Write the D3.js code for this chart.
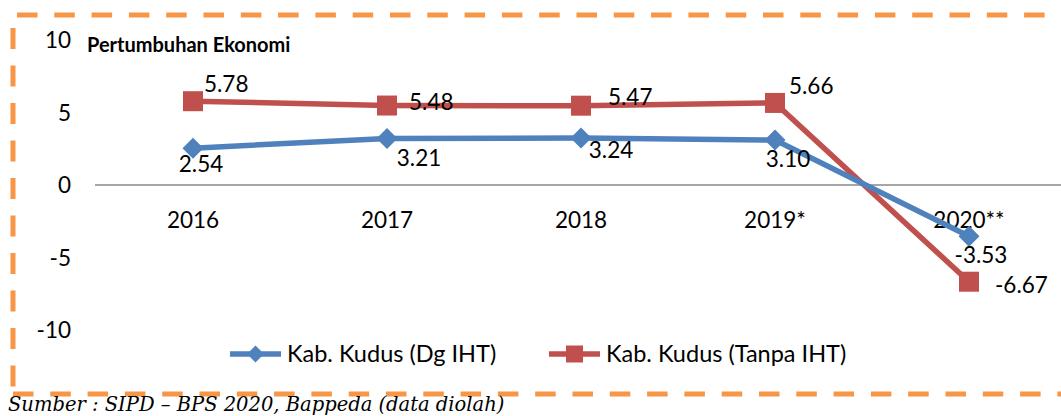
<!DOCTYPE html>
<html><head><meta charset="utf-8">
<script src="https://cdn.jsdelivr.net/npm/d3@7"></script>
<style>body{margin:0;background:#fff}svg{display:block}</style>
</head><body>
<svg id="c" width="1061" height="416"></svg>
<script>
const categories = ["2016", "2017", "2018", "2019*", "2020**"];
const seriesNames = ["Kab. Kudus (Dg IHT)", "Kab. Kudus (Tanpa IHT)"];
const dgIHT = [2.54, 3.21, 3.24, 3.10, -3.53];
const tanpaIHT = [5.78, 5.48, 5.47, 5.66, -6.67];
const yTicks = [10, 5, 0, -5, -10];
const title = "Pertumbuhan Ekonomi";
const source = "Sumber : SIPD \u2013 BPS 2020, Bappeda (data diolah)";

// label nudges (annotation placement)
const blueNudge = [[8,24],[32,28],[30,20],[13,27],[12,27]];
const redNudge = [[11,-9],[22,4],[27,-1],[14,-9],[26,11]];

const svg = d3.select("#c");
const font = "Lato, 'Open Sans', sans-serif";
const blue = "#4F81BD", red = "#C0504D", orange = "#F79646";

const x = d3.scalePoint().domain(categories).range([193, 969]);
const y = d3.scaleLinear().domain([-10, 10]).range([330, 40]);

// border
svg.append("line").attr("x1",17).attr("x2",1061).attr("y1",15).attr("y2",15)
  .attr("stroke",orange).attr("stroke-width",5).attr("stroke-dasharray","20.5 16.8");
svg.append("line").attr("x1",13).attr("x2",13).attr("y1",28).attr("y2",394)
  .attr("stroke",orange).attr("stroke-width",5).attr("stroke-dasharray","21 16.5");
svg.append("line").attr("x1",13).attr("x2",1061).attr("y1",394).attr("y2",394)
  .attr("stroke",orange).attr("stroke-width",5).attr("stroke-dasharray","20.5 16.8");

// y tick labels
svg.append("g").selectAll("text").data(yTicks).join("text")
  .attr("x",71).attr("y",d=>y(d)).attr("dy","0.36em").attr("text-anchor","end")
  .attr("font-family",font).attr("font-size",22.5).attr("fill","#000").text(d=>d);

// zero line
svg.append("line").attr("x1",95).attr("x2",1061).attr("y1",y(0)).attr("y2",y(0))
  .attr("stroke","#888").attr("stroke-width",1.5);

// category labels
svg.append("g").selectAll("text").data(categories).join("text")
  .attr("x",d=>x(d)).attr("y",228).attr("text-anchor","middle")
  .attr("font-family",font).attr("font-size",22.5).attr("fill","#000").text(d=>d);

// title
svg.append("text").attr("x",87).attr("y",52).attr("font-family",font)
  .attr("font-weight","bold").attr("font-size",20).attr("fill","#000").text(title);

const line = d3.line().x((d,i)=>x(categories[i])).y(d=>y(d));

// red series
svg.append("path").datum(tanpaIHT).attr("d",line).attr("fill","none")
  .attr("stroke",red).attr("stroke-width",5.5).attr("stroke-linejoin","round");
// blue series
svg.append("path").datum(dgIHT).attr("d",line).attr("fill","none")
  .attr("stroke",blue).attr("stroke-width",5.5).attr("stroke-linejoin","round");

svg.append("g").selectAll("rect").data(tanpaIHT).join("rect")
  .attr("x",(d,i)=>x(categories[i])-10).attr("y",d=>y(d)-10)
  .attr("width",20).attr("height",20).attr("fill",red);

const diamond = s => `M0,${-s}L${s},0L0,${s}L${-s},0Z`;
svg.append("g").selectAll("path").data(dgIHT).join("path")
  .attr("transform",(d,i)=>`translate(${x(categories[i])},${y(d)})`)
  .attr("d",diamond(10.5)).attr("fill",blue);

// data labels
svg.append("g").selectAll("text").data(dgIHT).join("text")
  .attr("x",(d,i)=>x(categories[i])+blueNudge[i][0]).attr("y",(d,i)=>y(d)+blueNudge[i][1])
  .attr("text-anchor","middle").attr("font-family",font).attr("font-size",22.5).attr("fill","#000")
  .text(d=>d.toFixed(2));
svg.append("g").selectAll("text").data(tanpaIHT).join("text")
  .attr("x",(d,i)=>x(categories[i])+redNudge[i][0]).attr("y",(d,i)=>y(d)+redNudge[i][1])
  .attr("text-anchor","start").attr("font-family",font).attr("font-size",22.5).attr("fill","#000")
  .text(d=>d.toFixed(2));

// legend
const lg = svg.append("g");
const legendItems = [{name:seriesNames[0], color:blue, x0:230, shape:"d"},
                     {name:seriesNames[1], color:red, x0:549, shape:"s"}];
legendItems.forEach(it=>{
  lg.append("line").attr("x1",it.x0).attr("x2",it.x0+51).attr("y1",354).attr("y2",354)
    .attr("stroke",it.color).attr("stroke-width",5.5);
  if(it.shape==="d") lg.append("path").attr("transform",`translate(${it.x0+25.5},354)`)
      .attr("d",diamond(8.5)).attr("fill",it.color);
  else lg.append("rect").attr("x",it.x0+17).attr("y",345.5).attr("width",17).attr("height",17).attr("fill",it.color);
  lg.append("text").attr("x",it.x0+57).attr("y",354).attr("dy","0.36em")
    .attr("font-family",font).attr("font-size",23.5).attr("fill","#000").text(it.name);
});

// source
svg.append("text").attr("x",8).attr("y",411).attr("font-family","'DejaVu Serif', serif")
  .attr("font-style","italic").attr("font-size",19.5).attr("fill","#000").text(source);
</script>
</body></html>
